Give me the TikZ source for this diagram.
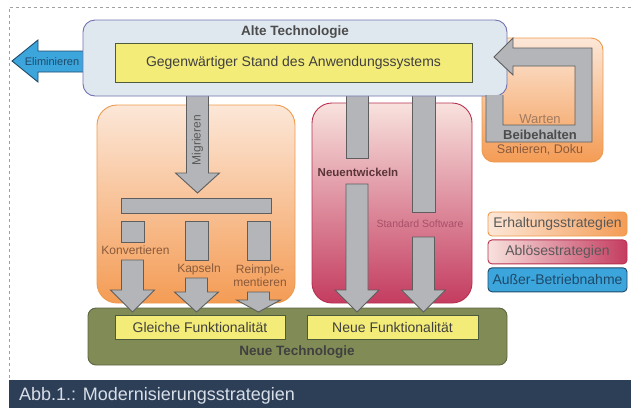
\documentclass[tikz,border=0pt]{standalone}
\usepackage{fontspec}
\setmainfont{Liberation Sans}
\usetikzlibrary{positioning}

\definecolor{oldtech}{HTML}{DFE7EF}
\definecolor{oldedge}{HTML}{7272B0}
\definecolor{stateyellow}{HTML}{F4EC78}
\definecolor{stateedge}{HTML}{4E5A3C}
\definecolor{newtech}{HTML}{808B55}
\definecolor{newedge}{HTML}{5C6642}
\definecolor{keeplight}{HTML}{FCE7D8}
\definecolor{keepdark}{HTML}{F49C55}
\definecolor{keepedge}{HTML}{EE9A4C}
\definecolor{replight}{HTML}{F8E2DE}
\definecolor{repdark}{HTML}{C43C60}
\definecolor{repedge}{HTML}{B83050}
\definecolor{retire}{HTML}{3CA5DC}
\definecolor{retireedge}{HTML}{1E4A6A}
\definecolor{arrowgray}{HTML}{B4B5B8}
\definecolor{arrowedge}{HTML}{5E5E5E}
\definecolor{captionbar}{HTML}{2D3F57}
\definecolor{captiontext}{HTML}{D8DEE8}
\definecolor{framegray}{HTML}{A0A0A0}
\definecolor{keeptext}{HTML}{8A5A3A}
\definecolor{reptext}{HTML}{5A3438}
\definecolor{softrep}{HTML}{A85068}

\newcommand{\downblock}[4]{%
  \draw[grayarrow] (#1-11,#2) -- (#1+11,#2) -- (#1+11,#3) -- (#1+22,#3)
    -- (#1,#4) -- (#1-22,#3) -- (#1-11,#3) -- cycle;}

\begin{document}
\begin{tikzpicture}[x=1pt,y=-1pt,
  every node/.style={inner sep=0pt},
  techbox/.style={draw=oldedge,fill=oldtech,line width=0.9pt,rounded corners=12pt},
  funcbox/.style={draw=stateedge,fill=stateyellow,line width=0.9pt,
    font=\fontsize{14}{16}\selectfont,text=black!75},
  keepbox/.style={draw=keepedge,line width=0.9pt,top color=keeplight,
    bottom color=keepdark,rounded corners=#1},
  keepbox/.default=20pt,
  repbox/.style={draw=repedge,line width=0.9pt,top color=replight,
    bottom color=repdark,rounded corners=20pt},
  newbox/.style={draw=newedge,fill=newtech,line width=0.9pt,rounded corners=8pt},
  grayarrow/.style={fill=arrowgray,draw=arrowedge,line width=0.9pt},
  headline/.style={font=\bfseries\fontsize{13.5}{15}\selectfont,text=black!70},
  armlabel/.style={font=\fontsize{12}{13}\selectfont,text=keeptext,align=center},
  legendbox/.style={line width=0.9pt,rounded corners=4pt,minimum width=139pt,
    minimum height=24pt,font=\fontsize{14}{16}\selectfont,text=black!65}]

\useasboundingbox (0,0) rectangle (631,408);
\draw[framegray,dashed,line width=0.4pt] (631,7) -- (9,7) -- (9,380);

% strategy backgrounds
\node[keepbox, minimum width=198pt, minimum height=198pt] (migbox) at (196,204) {};
\node[repbox, minimum width=160pt, minimum height=200pt] (replbox) at (392,203) {};
\node[keepbox=12pt, minimum width=121pt, minimum height=124pt] (keep) at (542.5,100) {};

% new technology
\node[newbox, minimum width=419pt, minimum height=57pt] (newtech) at (297.5,336.5) {};
\node[funcbox, minimum width=170pt, minimum height=24pt] (same) at (200,327) {Gleiche Funktionalität};
\node[funcbox, minimum width=171pt, minimum height=24pt] (newfunc) at (392.5,327) {Neue Funktionalität};
\node[headline, text=black!75] (newlabel) at (297,352) {Neue Technologie};

% eliminate
\filldraw[fill=retire,draw=retireedge,line width=0.9pt]
  (90,51) -- (38,51) -- (38,40) -- (12,61) -- (38,82) -- (38,72) -- (90,72);
\node[font=\fontsize{11}{12}\selectfont,text=retireedge] (elim) at (52,61.5) {Eliminieren};

% arrows leaving the old system
\downblock{197.5}{90}{173}{193}
\draw[grayarrow] (346,90) rectangle (368,158);
\draw[grayarrow] (412,90) rectangle (435,212);

% old technology
\node[techbox, minimum width=424pt, minimum height=76pt] (old) at (295,58) {};
\node[headline, below=6pt of old.north] (oldlabel) {Alte Technologie};
\node[funcbox, minimum width=357pt, minimum height=39pt] (state) at (293.5,62.5)
  {Gegenwärtiger Stand des Anwendungssystems};

% keep loop
\filldraw[grayarrow] (486,95) -- (486,142) -- (592,142) -- (592,48) -- (513,48)
  -- (513,38) -- (494,57) -- (513,75) -- (513,66) -- (575,66) -- (575,125)
  -- (503,125) -- (503,95);
\node[font=\fontsize{13}{14}\selectfont,text=keeptext!80] (wait) at (540,119) {Warten};
\node[headline, font=\bfseries\fontsize{13}{14}\selectfont] (keeplabel) at (540,135) {Beibehalten};
\node[font=\fontsize{12.5}{14}\selectfont,text=keeptext] (repair) at (540,150) {Sanieren, Doku};

% migrate
\node[rotate=90, font=\fontsize{12}{13}\selectfont, text=black!65] (mig) at (197.5,140) {Migrieren};
\draw[grayarrow] (121,198) rectangle (271,213);
\foreach \cx/\ybot in {132.5/242, 196.5/260, 258.5/260}
  \draw[grayarrow] (\cx-11.5,221) rectangle (\cx+11.5,\ybot);
\foreach \cx/\ytop/\yhead in {132.5/260/290, 196.5/278/292, 258.5/292/300}
  {\downblock{\cx}{\ytop}{\yhead}{312}}
\node[armlabel] (conv) at (135.5,250) {Konvertieren};
\node[armlabel] (wrap) at (199,269) {Kapseln};
\node[armlabel] (reimpl) at (260,276) {Reimple-\\mentieren};

% replace
\node[font=\bfseries\fontsize{11.5}{13}\selectfont, text=reptext] (develop) at (358,172) {Neuentwickeln};
\node[font=\fontsize{10.5}{12}\selectfont, text=softrep] (stdsw) at (420,224) {Standard Software};
\downblock{357}{184}{290}{312}
\downblock{423.5}{237}{290}{312}

% legend
\node[legendbox, draw=keepedge, left color=keeplight, right color=keepdark] (lgkeep) at (557.5,224) {Erhaltungsstrategien};
\node[legendbox, draw=repedge, left color=replight, right color=repdark, below=3pt of lgkeep] (lgrepl) {Ablösestrategien};
\node[legendbox, draw=retireedge, fill=retire, text=retireedge, below=3pt of lgrepl] (lgretire) {Außer-Betriebnahme};

% caption
\fill[captionbar] (9,380) rectangle (631,408);
\node[anchor=west, font=\fontsize{18}{20}\selectfont, text=captiontext] (caption) at (19,396)
  {Abb.1.: Modernisierungsstrategien};
\end{tikzpicture}
\end{document}
